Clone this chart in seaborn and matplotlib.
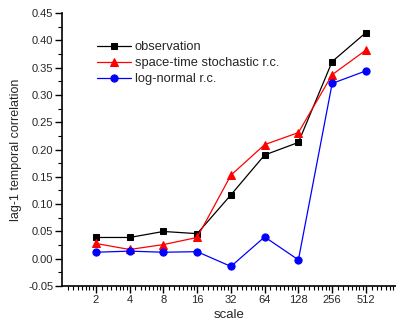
import numpy as np
import pandas as pd
import matplotlib
matplotlib.use('Agg')
import matplotlib.pyplot as plt
import matplotlib.ticker as mticker
import seaborn as sns

# values
scales = [2, 4, 8, 16, 32, 64, 128, 256, 512]
observation = [0.039, 0.039, 0.050, 0.046, 0.117, 0.190, 0.213, 0.361, 0.414]
space_time = [0.028, 0.017, 0.026, 0.039, 0.153, 0.209, 0.231, 0.337, 0.382]
log_normal = [0.012, 0.014, 0.012, 0.013, -0.014, 0.040, -0.002, 0.321, 0.344]

series_names = ['observation', 'space-time stochastic r.c.', 'log-normal r.c.']
series_colors = ['black', 'red', 'blue']
series_markers = ['s', '^', 'o']
series_sizes = [4.5, 6, 5.2]

df = pd.DataFrame({
    'scale': scales * 3,
    'value': observation + space_time + log_normal,
    'series': np.repeat(series_names, len(scales)),
})

sns.set_style('ticks')
plt.rcParams['font.family'] = ['Liberation Sans', 'DejaVu Sans']

fig = plt.figure(figsize=(3.96, 3.24), dpi=100)
ax = fig.add_axes([0.157, 0.117, 0.843, 0.843])

for name, col, mk, ms in zip(series_names, series_colors, series_markers, series_sizes):
    sub = df[df['series'] == name]
    sns.lineplot(data=sub, x='scale', y='value', ax=ax, color=col, marker=mk,
                 markersize=ms, markeredgecolor=col, linewidth=0.9, label=name)

ax.set_xscale('log', base=2)
ax.set_xlim(1, 950)
ax.set_xticks(scales)
ax.xaxis.set_major_formatter(mticker.FixedFormatter([str(s) for s in scales]))
ax.xaxis.set_minor_locator(mticker.LogLocator(base=2, subs=1 + np.arange(1, 8) / 8, numticks=50))
ax.xaxis.set_minor_formatter(mticker.NullFormatter())

ax.set_ylim(-0.05, 0.45)
ax.yaxis.set_major_locator(mticker.MultipleLocator(0.05))
ax.yaxis.set_minor_locator(mticker.MultipleLocator(0.025))
ax.yaxis.set_major_formatter(mticker.FormatStrFormatter('%.2f'))

ax.tick_params(which='major', length=5, width=1, labelsize=8, pad=1.5, color='black')
ax.tick_params(which='minor', length=3, width=0.8, color='black')

for side in ['top', 'right']:
    ax.spines[side].set_visible(False)
for side in ['left', 'bottom']:
    ax.spines[side].set_linewidth(1.2)
    ax.spines[side].set_color('black')

ax.set_xlabel('scale', fontsize=9.5, labelpad=3)
ax.set_ylabel('lag-1 temporal correlation', fontsize=9, labelpad=4)

ax.legend(loc='upper left', bbox_to_anchor=(0.09, 0.915), frameon=False,
          fontsize=9.3, handlelength=2.6, handletextpad=0.3, labelspacing=0.3,
          borderaxespad=0)

fig.savefig('out.png', dpi=100)
